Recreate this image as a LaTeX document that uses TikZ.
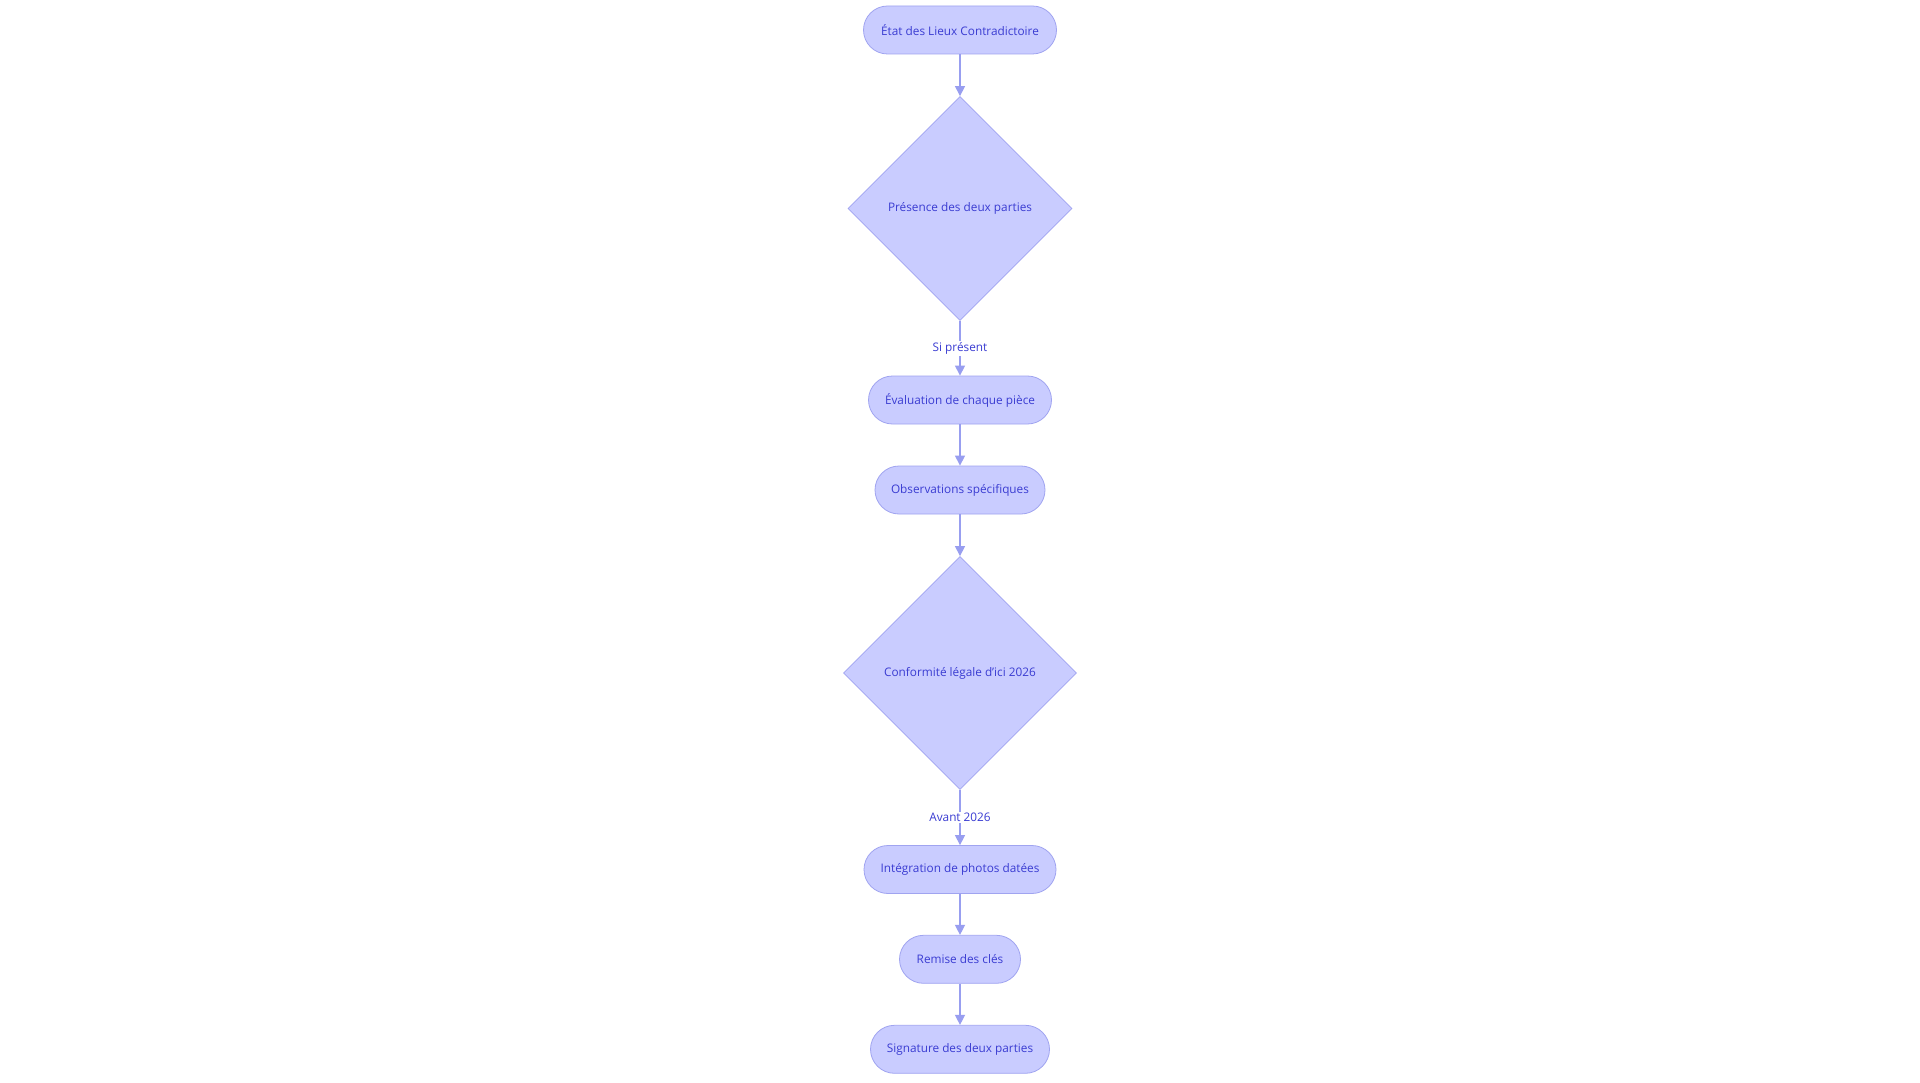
\documentclass[tikz,border=0pt]{standalone}
\usepackage{fontspec}
\setmainfont{Open Sans}
\usetikzlibrary{shapes.geometric,arrows.meta}
\definecolor{nodefill}{RGB}{201,204,255}
\definecolor{nodeline}{RGB}{160,164,240}
\definecolor{edgecol}{RGB}{152,158,240}
\definecolor{txt}{RGB}{58,60,210}
\begin{document}
\begin{tikzpicture}[x=1pt,y=-1pt,
  every node/.style={font=\fontsize{11.8}{13}\selectfont, text=txt},
  pill/.style={draw=nodeline, fill=nodefill, line width=0.8pt, rounded corners=24pt, minimum height=48pt, inner sep=0pt},
  decision/.style={draw=nodeline, fill=nodefill, line width=0.8pt, diamond, inner sep=0pt},
  flow/.style={draw=edgecol, line width=1.3pt, -{Triangle[length=10pt,width=10pt]}},
  elabel/.style={fill=white, inner sep=1.5pt}
]
\path[fill=white] (0,0) rectangle (1920,1083);
\useasboundingbox (0,0) rectangle (1920,1083);

\node[pill, minimum width=193pt] (n1) at (960,30) {État des Lieux Contradictoire};
\node[decision, minimum width=224pt, minimum height=224pt] (d1) at (960,208.5) {Présence des deux parties};
\node[pill, minimum width=183pt] (n2) at (960,400) {Évaluation de chaque pièce};
\node[pill, minimum width=170pt] (n3) at (960,490) {Observations spécifiques};
\node[decision, minimum width=233pt, minimum height=233pt] (d2) at (960,673) {Conformité légale d'ici 2026};
\node[pill, minimum width=192pt] (n4) at (960,869.5) {Intégration de photos datées};
\node[pill, minimum width=121pt] (n5) at (960,959.3) {Remise des clés};
\node[pill, minimum width=179pt] (n6) at (960,1049.3) {Signature des deux parties};

\draw[flow] (n1) -- (d1);
\draw[flow] (d1) -- node[elabel] {Si présent} (n2);
\draw[flow] (n2) -- (n3);
\draw[flow] (n3) -- (d2);
\draw[flow] (d2) -- node[elabel] {Avant 2026} (n4);
\draw[flow] (n4) -- (n5);
\draw[flow] (n5) -- (n6);
\end{tikzpicture}
\end{document}
